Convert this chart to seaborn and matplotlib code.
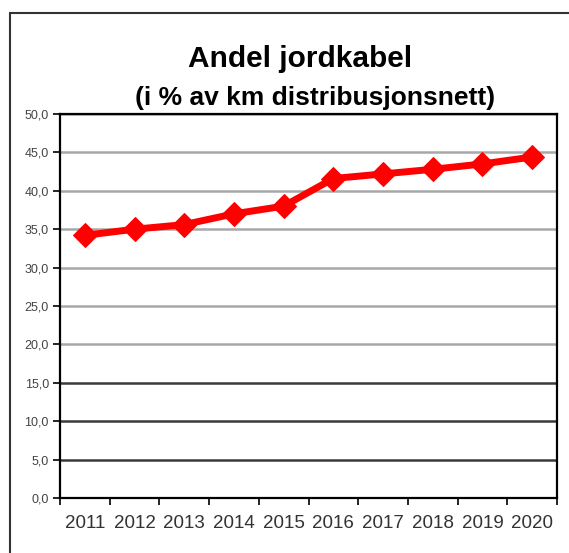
import matplotlib
matplotlib.use("Agg")
import matplotlib.pyplot as plt
import matplotlib.ticker as mticker
from matplotlib.patches import Rectangle
import pandas as pd
import seaborn as sns

# --- DATA ---
years = ['2011', '2012', '2013', '2014', '2015', '2016', '2017', '2018', '2019', '2020']
andel = [34.2, 35.0, 35.6, 37.0, 38.0, 41.6, 42.2, 42.8, 43.5, 44.4]
y_ticks = [0, 5, 10, 15, 20, 25, 30, 35, 40, 45, 50]

df = pd.DataFrame({'pos': range(len(years)), 'Andel': andel})

sns.set_theme(style="white")
plt.rcParams['font.family'] = ['Liberation Sans', 'DejaVu Sans']

fig = plt.figure(figsize=(5.69, 5.53), dpi=100)
ax = fig.add_axes([60 / 569, 55 / 553, 497 / 569, 384 / 553])

ax = sns.lineplot(data=df, x='pos', y='Andel', ax=ax, color='#ff0000', linewidth=5,
                  marker='D', markersize=12.5, markeredgecolor='#ff0000', zorder=5)

# axis limits / ticks (category axis, ticks between categories like Excel)
ax.set_xlim(-0.5, len(years) - 0.5)
ax.set_ylim(0, 50)
ax.set_xticks([i - 0.5 for i in range(len(years) + 1)])
ax.set_xticklabels([])
ax.set_xticks(range(len(years)), minor=True)
ax.set_xticklabels(years, minor=True, fontsize=13.5, color='#333333')
ax.tick_params(axis='x', which='major', direction='out', length=5, width=1.2, color='black', bottom=True)
ax.tick_params(axis='x', which='minor', length=0, pad=12)
ax.set_yticks(y_ticks)
ax.yaxis.set_major_formatter(mticker.FuncFormatter(lambda v, p: f'{v:.1f}'.replace('.', ',')))
ax.tick_params(axis='y', direction='out', length=5, width=1.2, color='black', left=True,
               labelsize=9, labelcolor='#444444', pad=3)
ax.set_xlabel('')
ax.set_ylabel('')

# horizontal grid lines
ax.yaxis.grid(True, linewidth=1.8)
for val, gl in zip(y_ticks, ax.get_ygridlines()):
    gl.set_color('#3a3a3a' if val <= 15 else '#a8a8a8')
ax.set_axisbelow(True)

for sp in ax.spines.values():
    sp.set_color('black')
    sp.set_linewidth(1.6)

# titles
fig.text(300 / 569, 1 - 67 / 553, 'Andel jordkabel', ha='center', va='baseline',
         fontsize=21.5, fontweight='bold', color='black')
fig.text(315 / 569, 1 - 105 / 553, '(i % av km distribusjonsnett)', ha='center', va='baseline',
         fontsize=19, fontweight='bold', color='black')

# outer chart frame
fig.patches.append(Rectangle((10 / 569, -0.1), 1.2, 1 - 13 / 553 + 0.1, transform=fig.transFigure,
                             fill=False, edgecolor='#333333', linewidth=1.5))

fig.savefig('out.png', dpi=100)
